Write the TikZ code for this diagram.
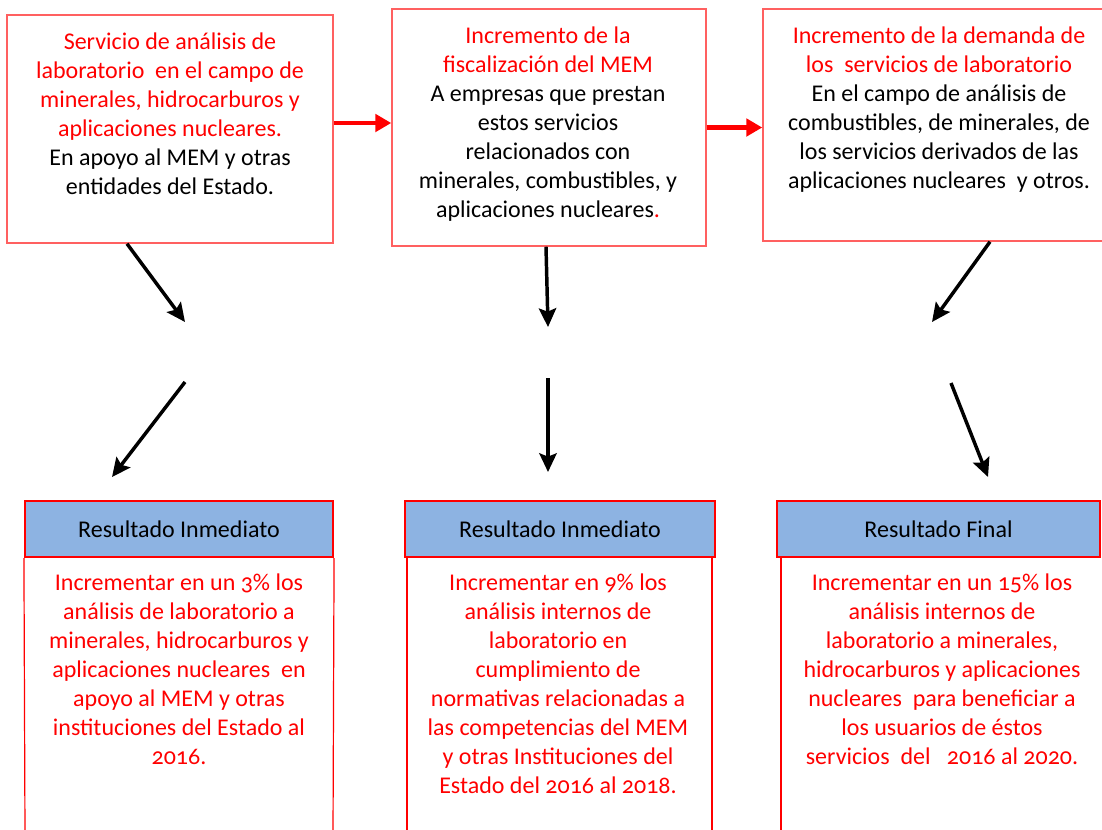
\documentclass[tikz,border=0pt]{standalone}
\usepackage{fontspec}
\setmainfont{Carlito}[Numbers=OldStyle]
\usetikzlibrary{arrows.meta,fit}
\definecolor{hdrblue}{HTML}{8DB3E2}
\definecolor{boxred}{HTML}{FF6060}
\tikzset{
  topbox/.style={draw=boxred, line width=1.1pt, inner sep=0pt},
  hdrbox/.style={draw=red, fill=hdrblue, line width=1.6pt, inner sep=0pt},
  txt/.style={align=center, inner sep=0pt, anchor=base, font=\fontsize{18}{21.75}\selectfont},
  hdrtxt/.style={inner sep=0pt, font=\fontsize{18}{21.75}\selectfont},
  redarrow/.style={draw=red, line width=3.6pt, -{Triangle[length=12pt,width=13pt]}},
  blackarrow/.style={draw=black, line width=2.6pt, -{Stealth[length=14pt,width=13pt,inset=2.5pt]}},
  sideline/.style={draw=red, line width=0.9pt}
}
\begin{document}
\begin{tikzpicture}[x=0.75pt,y=-0.75pt]
\useasboundingbox (0,0) rectangle (1102,829);
% top boxes
\node[topbox, fit={(7,15) (333,243)}] (b1) {};
\node[topbox, fit={(392,9) (706,246)}] (b2) {};
\node[topbox, fit={(763,9) (1108,241)}] (b3) {};
% top texts (base anchor = baseline of last line)
\node[txt] (t1) at (170,194) {\textcolor{red}{Servicio de análisis de}\\
\textcolor{red}{laboratorio\ \ en el campo de}\\
\textcolor{red}{minerales, hidrocarburos y}\\
\textcolor{red}{aplicaciones nucleares.}\\
En apoyo al MEM y otras\\
entidades del Estado.};
\node[txt] (t2) at (548,217) {\textcolor{red}{Incremento de la}\\
\textcolor{red}{fiscalización del MEM}\\
A empresas que prestan\\
estos servicios\\
relacionados con\\
minerales, combustibles, y\\
aplicaciones nucleares\textcolor{red}{.}};
\node[txt] (t3) at (939,188) {\textcolor{red}{Incremento de la demanda de}\\
\textcolor{red}{los\ \ servicios de laboratorio}\\
En el campo de análisis de\\
combustibles, de minerales, de\\
los servicios derivados de las\\
aplicaciones nucleares\ \ y otros.};
% red arrows
\draw[redarrow] (b1.east |- 0,123) -- (b2.west |- 0,123);
\draw[redarrow] (b2.east |- 0,127.5) -- (b3.west |- 0,127.5);
% headers
\node[hdrbox, fit={(25,501) (333,557)}] (h1) {};
\node[hdrbox, fit={(405,501) (715,557)}] (h2) {};
\node[hdrbox, fit={(777,501) (1100,557)}] (h3) {};
\node[hdrtxt] (ht1) at (h1.center) {Resultado Inmediato};
\node[hdrtxt] (ht2) at (h2.center) {Resultado Inmediato};
\node[hdrtxt] (ht3) at (h3.center) {Resultado Final};
% body side lines
\coordinate (l1b) at (25,835); \coordinate (r1b) at (333,835);
\coordinate (l2b) at (407,835); \coordinate (r2b) at (712,835);
\coordinate (l3b) at (781,835);
\draw[sideline] (h1.south west) -- (l1b);
\draw[sideline] (h1.south east) -- (r1b);
\draw[sideline] (h2.south west -| l2b) -- (l2b);
\draw[sideline] (h2.south east -| r2b) -- (r2b);
\draw[sideline] (h3.south west -| l3b) -- (l3b);
% bottom texts
\node[txt,text=red] (bt1) at (179,764) {Incrementar en un 3\% los\\
análisis de laboratorio a\\
minerales, hidrocarburos y\\
aplicaciones nucleares\ \ en\\
apoyo al MEM y otras\\
instituciones del Estado al\\
2016.};
\node[txt,text=red] (bt2) at (558,793) {Incrementar en 9\% los\\
análisis internos de\\
laboratorio en\\
cumplimiento de\\
normativas relacionadas a\\
las competencias del MEM\\
y otras Instituciones del\\
Estado del 2016 al 2018.};
\node[txt,text=red] (bt3) at (942,764) {Incrementar en un 15\% los\\
análisis internos de\\
laboratorio a minerales,\\
hidrocarburos y aplicaciones\\
nucleares\ \ para beneficiar a\\
los usuarios de éstos\\
servicios\ \ del\ \ \ 2016 al 2020.};
% black arrows
\coordinate (a1e) at (185,322); \coordinate (a1s) at (185,382); \coordinate (a1t) at (112,477);
\coordinate (a2e) at (548,327); \coordinate (a2s) at (548,378); \coordinate (a2t) at (548,472);
\coordinate (a3e) at (932,322); \coordinate (a3s) at (951,383); \coordinate (a3t) at (988,477);
\draw[blackarrow] (b1.south -| 127,0) -- (a1e);
\draw[blackarrow] (a1s) -- (a1t);
\draw[blackarrow] (b2.south -| 546,0) -- (a2e);
\draw[blackarrow] (a2s) -- (a2t);
\draw[blackarrow] (b3.south -| 990,0) -- (a3e);
\draw[blackarrow] (a3s) -- (a3t);
\end{tikzpicture}
\end{document}
